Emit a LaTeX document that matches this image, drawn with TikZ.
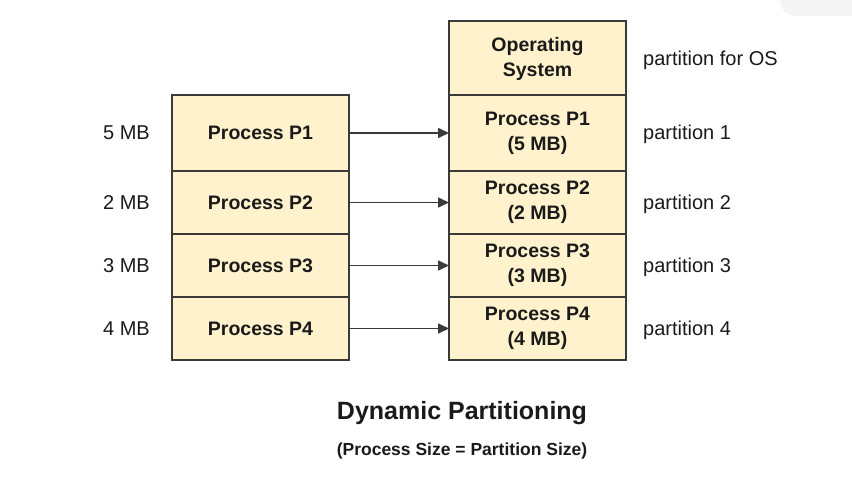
\documentclass[tikz,border=0pt]{standalone}
\usepackage{fontspec}
\setmainfont{Liberation Sans}
\usetikzlibrary{arrows.meta}
\definecolor{boxfill}{HTML}{FFF2CC}
\definecolor{boxline}{HTML}{3A3A3A}
\definecolor{txt}{HTML}{1A1A1A}
\begin{document}
\begin{tikzpicture}[x=1pt,y=-1pt,
  cell/.style={draw=boxline,fill=boxfill,line width=1.4pt,inner sep=0pt,outer sep=0pt,
    minimum width=177pt,align=center,text=txt,font=\fontsize{19.5}{25}\selectfont\bfseries},
  sidelbl/.style={text=txt,font=\fontsize{20}{24}\selectfont,inner sep=0pt},
  conn/.style={draw=boxline,line width=1.6pt,-{Triangle[length=11pt,width=10pt]}}]
\useasboundingbox (0,0) rectangle (852,480);
\begin{scope}
\clip (0,0) rectangle (852,480);
\fill[gray!9,rounded corners=16pt] (780,-40) rectangle (900,16);
\end{scope}
% left column
\node[cell,minimum height=76pt] (l1) at (260.5,133) {Process P1};
\node[cell,minimum height=63pt] (l2) at (260.5,202.5) {Process P2};
\node[cell,minimum height=63pt] (l3) at (260.5,265.5) {Process P3};
\node[cell,minimum height=63pt] (l4) at (260.5,328.5) {Process P4};
% right column
\node[cell,minimum height=75pt] (os) at (537.5,58.5) {Operating\\System};
\node[cell,minimum height=76pt] (r1) at (537.5,133) {Process P1\\(5 MB)};
\node[cell,minimum height=63pt] (r2) at (537.5,202.5) {Process P2\\(2 MB)};
\node[cell,minimum height=63pt] (r3) at (537.5,265.5) {Process P3\\(3 MB)};
\node[cell,minimum height=63pt] (r4) at (537.5,328.5) {Process P4\\(4 MB)};
% sizes
\node[sidelbl,anchor=east] (s1) at (150,133) {5 MB};
\node[sidelbl,anchor=east] (s2) at (150,203) {2 MB};
\node[sidelbl,anchor=east] (s3) at (150,266) {3 MB};
\node[sidelbl,anchor=east] (s4) at (150,329) {4 MB};
% partition labels
\node[sidelbl,anchor=west] (p0) at (643,60) {partition for OS};
\node[sidelbl,anchor=west] (p1) at (643,134) {partition 1};
\node[sidelbl,anchor=west] (p2) at (643,204) {partition 2};
\node[sidelbl,anchor=west] (p3) at (643,267) {partition 3};
\node[sidelbl,anchor=west] (p4) at (643,330) {partition 4};
% arrows
\draw[conn] (l1.east) -- (r1.west);
\draw[conn] (l2.east) -- (r2.west);
\draw[conn] (l3.east) -- (r3.west);
\draw[conn] (l4.east) -- (r4.west);
% titles
\node[text=txt,font=\fontsize{25}{30}\selectfont\bfseries,inner sep=0pt] (title) at (462,413) {Dynamic Partitioning};
\node[text=txt,font=\fontsize{17.5}{21}\selectfont\bfseries,inner sep=0pt] (sub) at (462,451) {(Process Size = Partition Size)};
\end{tikzpicture}
\end{document}
